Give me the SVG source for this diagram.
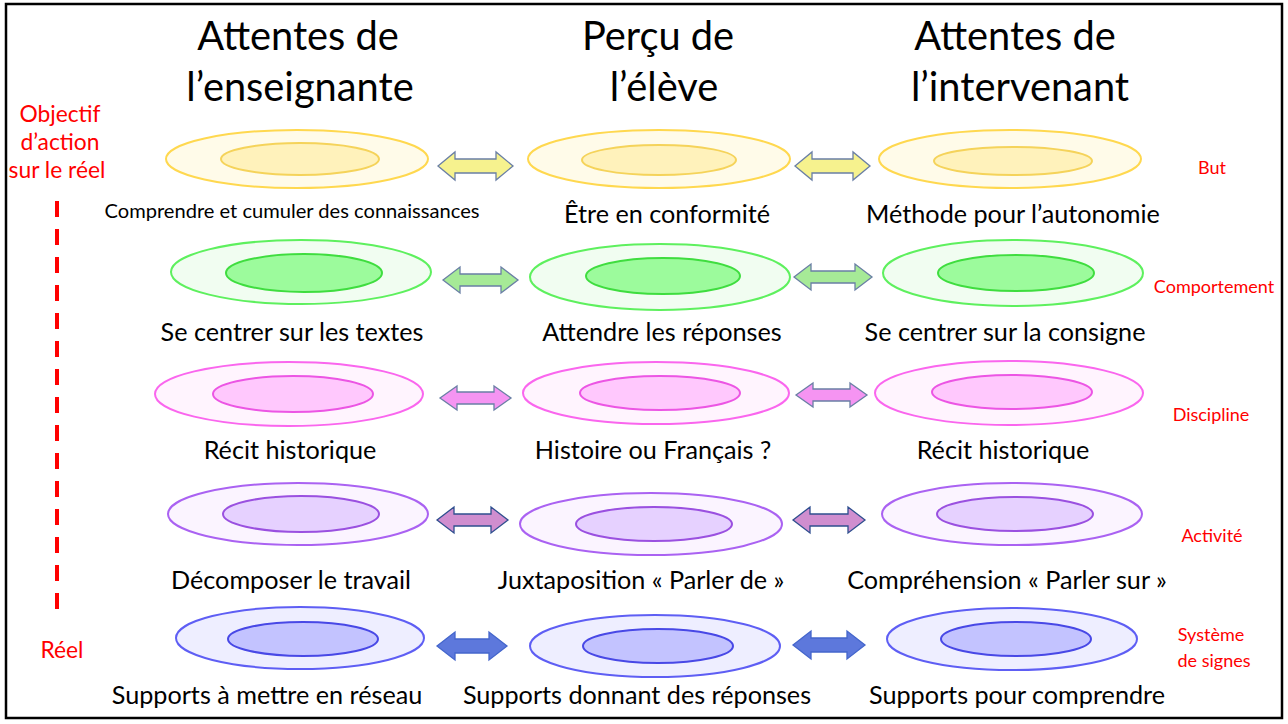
<svg xmlns="http://www.w3.org/2000/svg" width="1288" height="724" viewBox="0 0 1288 724">
<style>
text{font-family:Lato,"Open Sans","Liberation Sans",sans-serif;text-anchor:middle;fill:#000}
.title{font-size:39.8px}
.lbl{font-size:25.2px}
.sm{font-size:20.1px}
.red{fill:#ff0000}
.side{font-size:22.8px}
.cat{font-size:18px}
ellipse{stroke-width:2}
.y1{fill:#fffbe9;stroke:#ffd84f}.y2{fill:#fff2bb;stroke:#f5d35a}
.g1{fill:#f1fdf1;stroke:#5ef05e}.g2{fill:#9cfb9c;stroke:#3fdd3f}
.p1{fill:#fff4fe;stroke:#fa66ee}.p2{fill:#ffc8fd;stroke:#ec55e4}
.v1{fill:#fbf4ff;stroke:#aa62f2}.v2{fill:#e6d1ff;stroke:#9a50e0}
.b1{fill:#eeeeff;stroke:#5e5ef4}.b2{fill:#c3c3ff;stroke:#4848e6}
.arr{stroke-width:1.3;stroke-linejoin:miter}
.ay{fill:#f6f28e;stroke:#6a7fa5}
.ag{fill:#a6ea97;stroke:#6a7fa5}
.ap{fill:#f594f2;stroke:#6a7fa5}
.av{fill:#d08ecf;stroke:#2f4f8f}
.ab{fill:#5d78dc;stroke:#4466cc}
</style>
<rect x="6" y="4" width="1276" height="714" fill="#ffffff" stroke="#000" stroke-width="2.5"/>

<g id="headers">
<text class="title" x="298" y="50">Attentes de</text>
<text class="title" x="300" y="101">l’enseignante</text>
<text class="title" x="658" y="50">Perçu de</text>
<text class="title" x="664" y="101">l’élève</text>
<text class="title" x="1015" y="50">Attentes de</text>
<text class="title" x="1020" y="101">l’intervenant</text>
</g>

<g id="axis">
<text class="red side" x="60" y="122">Objectif</text>
<text class="red side" x="60" y="150">d’action</text>
<text class="red side" x="57" y="178">sur le réel</text>
<line x1="57" y1="201" x2="57" y2="609" stroke="#ff0000" stroke-width="4" stroke-dasharray="16 12"/>
<text class="red side" x="62" y="658">Réel</text>
</g>

<g id="categories">
<text class="red cat" x="1212" y="174">But</text>
<text class="red cat" x="1214" y="293">Comportement</text>
<text class="red cat" x="1211" y="421">Discipline</text>
<text class="red cat" x="1212" y="542">Activité</text>
<text class="red cat" x="1211" y="641">Système</text>
<text class="red cat" x="1214" y="667">de signes</text>
</g>

<!-- Row 1 -->
<g id="n-r1-ens">
<ellipse class="y1" cx="297" cy="159" rx="131" ry="29"/>
<ellipse class="y2" cx="300" cy="159" rx="79" ry="16"/>
<text class="sm" x="292" y="218">Comprendre et cumuler des connaissances</text>
</g>
<g id="n-r1-ele">
<ellipse class="y1" cx="659" cy="159" rx="131" ry="29"/>
<ellipse class="y2" cx="659" cy="160" rx="77" ry="15"/>
<text class="lbl" x="667" y="223">Être en conformité</text>
</g>
<g id="n-r1-int">
<ellipse class="y1" cx="1010" cy="159" rx="131" ry="29"/>
<ellipse class="y2" cx="1013" cy="161" rx="79" ry="14"/>
<text class="lbl" x="1013" y="223">Méthode pour l’autonomie</text>
</g>

<!-- Row 2 -->
<g id="n-r2-ens">
<ellipse class="g1" cx="301" cy="272" rx="130" ry="32"/>
<ellipse class="g2" cx="304" cy="273" rx="78" ry="19"/>
<text class="lbl" x="292" y="341">Se centrer sur les textes</text>
</g>
<g id="n-r2-ele">
<ellipse class="g1" cx="660" cy="277" rx="130" ry="33"/>
<ellipse class="g2" cx="663" cy="276" rx="77" ry="18"/>
<text class="lbl" x="662" y="341">Attendre les réponses</text>
</g>
<g id="n-r2-int">
<ellipse class="g1" cx="1013" cy="273" rx="130" ry="33"/>
<ellipse class="g2" cx="1016" cy="273" rx="78" ry="18"/>
<text class="lbl" x="1005" y="341">Se centrer sur la consigne</text>
</g>

<!-- Row 3 -->
<g id="n-r3-ens">
<ellipse class="p1" cx="289" cy="394" rx="134" ry="32"/>
<ellipse class="p2" cx="293" cy="394" rx="80" ry="18"/>
<text class="lbl" x="290" y="459">Récit historique</text>
</g>
<g id="n-r3-ele">
<ellipse class="p1" cx="656" cy="393" rx="133" ry="31"/>
<ellipse class="p2" cx="660" cy="393" rx="80" ry="17"/>
<text class="lbl" x="653" y="459">Histoire ou Français ?</text>
</g>
<g id="n-r3-int">
<ellipse class="p1" cx="1009" cy="393" rx="134" ry="32"/>
<ellipse class="p2" cx="1012" cy="392" rx="80" ry="17"/>
<text class="lbl" x="1003" y="459">Récit historique</text>
</g>

<!-- Row 4 -->
<g id="n-r4-ens">
<ellipse class="v1" cx="298" cy="514" rx="130" ry="31"/>
<ellipse class="v2" cx="301" cy="514" rx="78" ry="18"/>
<text class="lbl" x="291" y="589">Décomposer le travail</text>
</g>
<g id="n-r4-ele">
<ellipse class="v1" cx="651" cy="524" rx="131" ry="31"/>
<ellipse class="v2" cx="654" cy="524" rx="78" ry="17"/>
<text class="lbl" x="641" y="589">Juxtaposition « Parler de »</text>
</g>
<g id="n-r4-int">
<ellipse class="v1" cx="1012" cy="514" rx="130" ry="31"/>
<ellipse class="v2" cx="1015" cy="514" rx="78" ry="17"/>
<text class="lbl" x="1007" y="589">Compréhension « Parler sur »</text>
</g>

<!-- Row 5 -->
<g id="n-r5-ens">
<ellipse class="b1" cx="300" cy="638" rx="124" ry="31"/>
<ellipse class="b2" cx="303" cy="639" rx="75" ry="17"/>
<text class="lbl" x="267" y="704">Supports à mettre en réseau</text>
</g>
<g id="n-r5-ele">
<ellipse class="b1" cx="655" cy="646" rx="125" ry="31"/>
<ellipse class="b2" cx="658" cy="646" rx="75" ry="17"/>
<text class="lbl" x="637" y="704">Supports donnant des réponses</text>
</g>
<g id="n-r5-int">
<ellipse class="b1" cx="1012" cy="639" rx="125" ry="31"/>
<ellipse class="b2" cx="1016" cy="639" rx="75" ry="17"/>
<text class="lbl" x="1017" y="704">Supports pour comprendre</text>
</g>

<g id="connectors">
<path class="arr ay" d="M438,166 L455,152 L455,159 L496,159 L496,152 L513,166 L496,180 L496,173 L455,173 L455,180 Z"/>
<path class="arr ay" d="M795,166 L812,152 L812,159 L853,159 L853,152 L870,166 L853,180 L853,173 L812,173 L812,180 Z"/>
<path class="arr ag" d="M443,280 L460,267 L460,274 L501,274 L501,267 L518,280 L501,293 L501,286 L460,286 L460,293 Z"/>
<path class="arr ag" d="M794,277 L811,264 L811,271 L855,271 L855,264 L872,277 L855,290 L855,283 L811,283 L811,290 Z"/>
<path class="arr ap" d="M440,398 L457,386 L457,392 L494,392 L494,386 L511,398 L494,410 L494,404 L457,404 L457,410 Z"/>
<path class="arr ap" d="M796,395 L813,383 L813,389 L850,389 L850,383 L867,395 L850,407 L850,401 L813,401 L813,407 Z"/>
<path class="arr av" d="M437,520 L454,507 L454,514 L491,514 L491,507 L508,520 L491,533 L491,526 L454,526 L454,533 Z"/>
<path class="arr av" d="M793,520 L810,507 L810,514 L848,514 L848,507 L865,520 L848,533 L848,526 L810,526 L810,533 Z"/>
<path class="arr ab" d="M437,646 L455,632 L455,639 L489,639 L489,632 L507,646 L489,660 L489,653 L455,653 L455,660 Z"/>
<path class="arr ab" d="M793,645 L811,631 L811,638 L847,638 L847,631 L865,645 L847,659 L847,652 L811,652 L811,659 Z"/>
</g>
</svg>
